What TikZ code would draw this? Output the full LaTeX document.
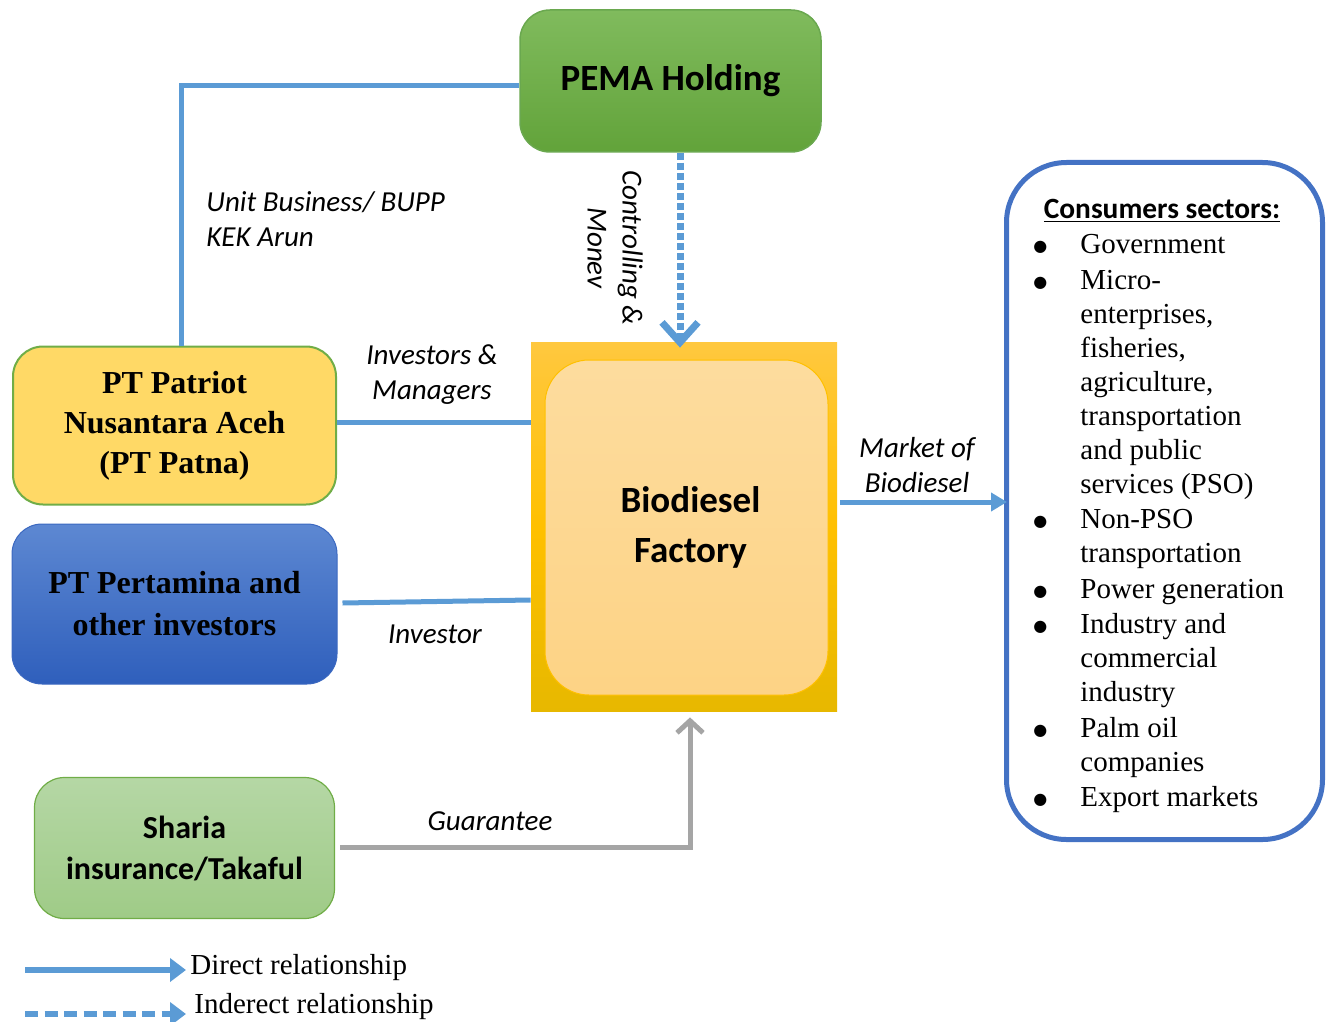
\documentclass[tikz,border=0pt]{standalone}
\usepackage{fontspec}
\setmainfont{Liberation Serif}
\newfontfamily\calfont{Carlito}
\newfontfamily\dejavu{DejaVu Sans}
\usetikzlibrary{arrows.meta,calc}
\definecolor{lblue}{HTML}{5B9BD5}
\definecolor{cblue}{HTML}{4472C4}
\definecolor{pemaT}{HTML}{80BB5D}
\definecolor{pemaB}{HTML}{62A33A}
\definecolor{pemaD}{HTML}{6AA84F}
\definecolor{facT}{HTML}{FFC83F}
\definecolor{facM}{HTML}{FFC000}
\definecolor{facB}{HTML}{E7B800}
\definecolor{inT}{HTML}{FDDC9E}
\definecolor{inB}{HTML}{FDD385}
\definecolor{patY}{HTML}{FFD966}
\definecolor{patG}{HTML}{70AD47}
\definecolor{perT}{HTML}{5D88D2}
\definecolor{perB}{HTML}{2F5FBC}
\definecolor{perD}{HTML}{3B68C0}
\definecolor{shaT}{HTML}{B5D7A5}
\definecolor{shaB}{HTML}{9FCB87}
\definecolor{gry}{HTML}{A5A5A5}
\newcommand{\bul}{\makebox[22.5pt][l]{\hspace*{-1pt}\raisebox{1pt}{\dejavu\fontsize{8}{10}\selectfont ●}}}
\newcommand{\ind}{\hspace*{22.5pt}}
\tikzset{
  rbox/.style={rounded corners=15pt, inner sep=0pt, align=center},
  conn/.style={draw=lblue, line width=2.5pt},
  lab/.style={font=\calfont\itshape\fontsize{14.5}{17.5}\selectfont, align=center, inner sep=0pt},
  legtext/.style={font=\fontsize{14.5}{17}\selectfont, anchor=west, inner sep=2pt},
}
\begin{document}
\begin{tikzpicture}[x=0.5pt,y=-0.5pt]
\useasboundingbox (0,0) rectangle (1328,1022);

% boxes
\node[rbox, minimum width=150.5pt, minimum height=71pt, top color=pemaT, bottom color=pemaB,
  draw=pemaD, line width=0.75pt, font=\calfont\bfseries\fontsize{18.5}{22}\selectfont] (pema) at (670.5,81) {PEMA Holding};

\node[minimum width=153pt, minimum height=184.5pt, top color=facT, bottom color=facB, middle color=facM,
  draw=none, inner sep=0pt] (fac) at (684,526.5) {};
\node[rounded corners=22pt, minimum width=141.5pt, minimum height=167.5pt, top color=inT, bottom color=inB,
  draw=facM, line width=0.5pt, inner sep=0pt, align=center,
  font=\calfont\bfseries\fontsize{18.5}{25}\selectfont] (inner) at (686.5,527.5) {\hspace*{4pt}Biodiesel\\\hspace*{4pt}Factory};

\node[rbox, minimum width=161.5pt, minimum height=79pt, fill=patY, draw=patG, line width=1pt,
  font=\bfseries\fontsize{16}{20}\selectfont] (pat) at (174.5,425.5) {PT Patriot\\Nusantara Aceh\\(PT Patna)};

\node[rbox, minimum width=162.5pt, minimum height=80pt, top color=perT, bottom color=perB, draw=perD, line width=0.5pt,
  font=\bfseries\fontsize{16}{21}\selectfont] (per) at (174.5,604) {PT Pertamina and\\other investors};

\node[rbox, minimum width=150pt, minimum height=70.5pt, top color=shaT, bottom color=shaB, draw=patG, line width=0.6pt,
  font=\calfont\bfseries\fontsize{16}{20.5}\selectfont] (sha) at (184.5,848) {Sharia\\insurance/Takaful};

\node[rounded corners=30pt, minimum width=158pt, minimum height=338.5pt, draw=cblue, line width=2.5pt, inner sep=0pt] (cons) at (1164.5,501) {};

\node[font=\calfont\bfseries\fontsize{14.7}{17}\selectfont, anchor=base, inner sep=0pt] (ctitle) at (1162,218) {\underline{Consumers sectors:}};

\node[anchor=north west, align=left, inner sep=0pt, font=\fontsize{14.5}{17}\selectfont] (list) at (1035,234) {%
\bul Government\\[0.75pt]
\bul Micro-\\
\ind enterprises,\\
\ind fisheries,\\
\ind agriculture,\\
\ind transportation\\
\ind and public\\
\ind services (PSO)\\[0.75pt]
\bul Non-PSO\\
\ind transportation\\[0.75pt]
\bul Power generation\\[0.75pt]
\bul Industry and\\
\ind commercial\\
\ind industry\\[0.75pt]
\bul Palm oil\\
\ind companies\\[0.75pt]
\bul Export markets};

% labels
\node[lab, anchor=west, align=left] (ub) at (206,219) {Unit Business/ BUPP\\KEK Arun};
\node[lab] (im) at (432,375) {Investors \&\\Managers};
\node[lab] (inv) at (435,634) {Investor};
\node[lab] (gua) at (490,821) {Guarantee};
\node[lab] (mob) at (917,465) {Market of\\Biodiesel};
\node[lab, rotate=-90] (cm) at (615,248) {Controlling \&\\Monev};

% connectors
\coordinate (corner) at (181,86);
\draw[conn] ([yshift=-2.5pt]pema.west) -- (corner) -- (corner |- pat.north);
\draw[conn] ([yshift=1.75pt]pat.east) -- ([yshift=1.75pt]pat.east -| fac.west);
\draw[conn] ([xshift=2.5pt,yshift=0.5pt]per.east) -- ([yshift=2pt]per.east -| fac.west);
\draw[lblue, line width=3.5pt, dash pattern=on 3.5pt off 1.5pt, -{Straight Barb[length=10pt,width=18pt]}]
  ([xshift=4.75pt]pema.south) -- ([xshift=-2pt,yshift=-3pt]fac.north);
\draw[gry, line width=2.5pt, -{Straight Barb[length=6pt,width=13pt]}]
  ([xshift=2.5pt,yshift=0.5pt]sha.east) -| ([xshift=3pt,yshift=-3pt]fac.south);
\draw[conn, -{Triangle[length=8pt,width=9pt]}]
  ([xshift=1.5pt,yshift=12.25pt]fac.east) -- ([xshift=1.5pt,yshift=12.25pt]fac.east -| cons.west);

% legend
\node[legtext] (leg1) at (186,968) {Direct relationship};
\node[legtext] (leg2) at (190,1007) {Inderect relationship};
\coordinate (l1s) at (25,970);
\coordinate (l2s) at (25,1014);
\draw[lblue, line width=2.75pt, -{Triangle[length=8pt,width=11.5pt]}] (l1s) -- (l1s -| leg1.west);
\draw[lblue, line width=3pt, dash pattern=on 6.5pt off 3.25pt, -{Triangle[length=8pt,width=11.5pt]}]
  (l2s) -- ([xshift=-2pt]l2s -| leg2.west);
\end{tikzpicture}
\end{document}
